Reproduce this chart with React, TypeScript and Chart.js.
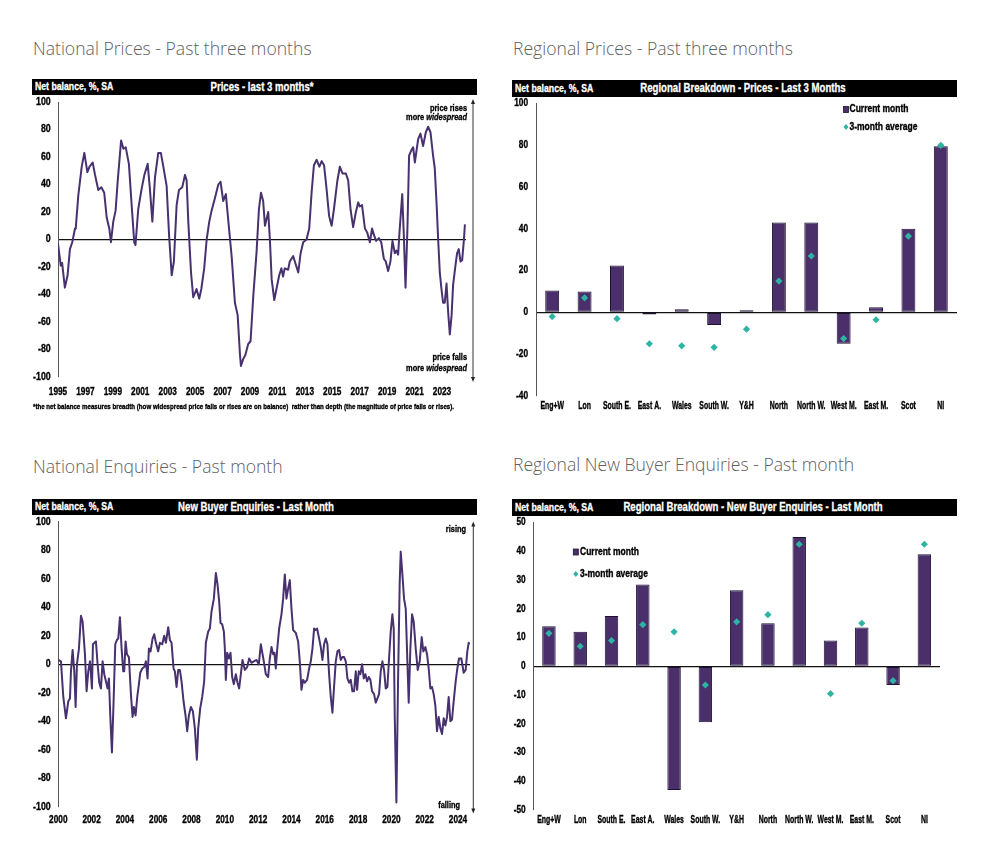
import React, { useEffect, useRef } from 'react';
import { Chart, registerables } from 'chart.js';

Chart.register(...registerables);

// ---------------- DATA ----------------
const priceYears = [
  1995.0, 1995.2, 1995.3, 1995.5, 1995.7, 1995.87, 1996.04, 1996.24, 1996.3, 1996.48, 1996.73, 1996.92,
  1997.14, 1997.3, 1997.53, 1997.7, 1997.94, 1998.16, 1998.37, 1998.55, 1998.74, 1998.86, 1999.03, 1999.2,
  1999.35, 1999.6, 1999.77, 1999.94, 2000.17, 2000.37, 2000.56, 2000.65, 2000.85, 2001.1, 2001.3, 2001.54,
  2001.7, 2001.88, 2002.07, 2002.31, 2002.5, 2002.68, 2002.92, 2003.1, 2003.29, 2003.45, 2003.65, 2003.82,
  2004.06, 2004.26, 2004.38, 2004.5, 2004.7, 2004.86, 2005.1, 2005.3, 2005.45, 2005.66, 2005.84, 2006.03,
  2006.2, 2006.44, 2006.69, 2006.85, 2007.05, 2007.24, 2007.47, 2007.66, 2007.9, 2008.1, 2008.27, 2008.34,
  2008.5, 2008.66, 2008.87, 2009.04, 2009.24, 2009.48, 2009.65, 2009.8, 2009.96, 2010.09, 2010.33, 2010.45,
  2010.58, 2010.77, 2010.93, 2011.13, 2011.29, 2011.41, 2011.53, 2011.78, 2011.9, 2012.15, 2012.27, 2012.52,
  2012.69, 2012.88, 2013.12, 2013.32, 2013.49, 2013.66, 2013.86, 2014.06, 2014.23, 2014.4, 2014.58, 2014.77,
  2014.95, 2015.12, 2015.36, 2015.55, 2015.75, 2015.99, 2016.16, 2016.33, 2016.52, 2016.72, 2016.89, 2017.0,
  2017.17, 2017.38, 2017.55, 2017.74, 2017.9, 2018.05, 2018.2, 2018.4, 2018.57, 2018.76, 2018.9, 2019.07,
  2019.24, 2019.39, 2019.56, 2019.68, 2019.8, 2019.92, 2020.1, 2020.22, 2020.34, 2020.48, 2020.6, 2020.77,
  2020.9, 2021.02, 2021.26, 2021.43, 2021.62, 2021.82, 2021.99, 2022.16, 2022.35, 2022.47, 2022.6, 2022.72,
  2022.84, 2022.96, 2023.08, 2023.2, 2023.33, 2023.45, 2023.57, 2023.7, 2023.81, 2023.98, 2024.1, 2024.22,
  2024.35, 2024.47, 2024.6, 2024.67,
];
const priceValues = [
  -3, -19, -17, -35, -26, -7, -2, 8, 9, 32, 53, 63,
  49, 53, 56, 47, 36, 38, 34, 16, 8, -2, 13, 21,
  42, 72, 66, 67, 55, 25, -2, -4, 22, 37, 47, 55,
  37, 13, 45, 63, 63, 53, 39, 3, -26, -16, 25, 36,
  38, 47, 43, 13, -24, -42, -36, -43, -36, -21, 0, 13,
  21, 30, 40, 42, 28, 33, 8, -12, -46, -55, -84, -92,
  -87, -84, -76, -74, -41, -9, 22, 34, 28, 10, 20, 0,
  -29, -44, -36, -26, -21, -27, -21, -22, -16, -12, -16, -24,
  -10, -2, 0, 8, 34, 54, 58, 53, 57, 54, 37, 17,
  10, 22, 42, 53, 48, 48, 43, 22, 9, 20, 27, 24,
  25, 8, 5, -2, 8, 3, -1, 1, -2, -14, -16, -23,
  -16, -1, -10, -8, -11, 8, 33, 2, -35, 8, 61, 65,
  67, 56, 73, 77, 68, 78, 82, 78, 61, 52, 27, 0,
  -24, -36, -46, -46, -32, -53, -69, -55, -33, -19, -10, -7,
  -16, -15, 0, 11,
];
const priceTickYears = [1995, 1997, 1999, 2001, 2003, 2005, 2007, 2009, 2011, 2013, 2015, 2017, 2019, 2021, 2023];

const enquiryYears = [
  2000.0, 2000.16, 2000.3, 2000.46, 2000.6, 2000.7, 2000.76, 2000.86, 2000.96, 2001.04, 2001.12, 2001.24,
  2001.36, 2001.46, 2001.6, 2001.7, 2001.8, 2001.9, 2001.96, 2002.02, 2002.08, 2002.16, 2002.26, 2002.36,
  2002.46, 2002.56, 2002.66, 2002.76, 2002.86, 2002.96, 2003.04, 2003.12, 2003.22, 2003.32, 2003.42, 2003.52,
  2003.6, 2003.7, 2003.8, 2003.9, 2003.96, 2004.04, 2004.12, 2004.24, 2004.36, 2004.46, 2004.54, 2004.64,
  2004.74, 2004.84, 2004.92, 2005.04, 2005.16, 2005.26, 2005.36, 2005.44, 2005.54, 2005.66, 2005.76, 2005.86,
  2006.0, 2006.1, 2006.24, 2006.36, 2006.46, 2006.6, 2006.7, 2006.8, 2006.92, 2007.0, 2007.1, 2007.2,
  2007.3, 2007.4, 2007.52, 2007.64, 2007.74, 2007.84, 2007.96, 2008.08, 2008.2, 2008.32, 2008.4, 2008.52,
  2008.64, 2008.76, 2008.86, 2009.0, 2009.1, 2009.2, 2009.34, 2009.46, 2009.56, 2009.66, 2009.74, 2009.84,
  2009.94, 2010.0, 2010.06, 2010.14, 2010.24, 2010.34, 2010.44, 2010.54, 2010.66, 2010.76, 2010.86, 2010.96,
  2011.06, 2011.2, 2011.34, 2011.46, 2011.6, 2011.74, 2011.9, 2012.04, 2012.16, 2012.34, 2012.46, 2012.6,
  2012.7, 2012.8, 2012.9, 2012.98, 2013.06, 2013.14, 2013.26, 2013.4, 2013.5, 2013.6, 2013.7, 2013.8,
  2013.9, 2014.0, 2014.1, 2014.26, 2014.4, 2014.5, 2014.6, 2014.7, 2014.8, 2014.94, 2015.06, 2015.16,
  2015.26, 2015.36, 2015.46, 2015.54, 2015.66, 2015.76, 2015.86, 2015.96, 2016.06, 2016.16, 2016.26, 2016.36,
  2016.46, 2016.54, 2016.66, 2016.76, 2016.86, 2016.96, 2017.06, 2017.16, 2017.26, 2017.36, 2017.46, 2017.56,
  2017.66, 2017.76, 2017.86, 2017.94, 2018.04, 2018.14, 2018.24, 2018.34, 2018.44, 2018.54, 2018.64, 2018.74,
  2018.84, 2018.96, 2019.06, 2019.16, 2019.26, 2019.36, 2019.46, 2019.56, 2019.66, 2019.76, 2019.86, 2019.96,
  2020.06, 2020.14, 2020.2, 2020.3, 2020.4, 2020.5, 2020.56, 2020.66, 2020.76, 2020.86, 2020.96, 2021.04,
  2021.14, 2021.24, 2021.34, 2021.46, 2021.58, 2021.7, 2021.82, 2021.92, 2022.04, 2022.14, 2022.24, 2022.34,
  2022.44, 2022.54, 2022.64, 2022.74, 2022.84, 2022.94, 2023.04, 2023.14, 2023.24, 2023.34, 2023.44, 2023.54,
  2023.64, 2023.74, 2023.86, 2023.96, 2024.06, 2024.2, 2024.34, 2024.46, 2024.56, 2024.64, 2024.7,
];
const enquiryValues = [
  3, 2, -23, -38, -26, -24, -5, 10, -5, -30, 0, 11,
  34, 30, 7, -19, -5, 2, -7, -17, 14, 15, 16, 0,
  -13, -17, 2, -7, -12, -17, -10, -36, -62, -26, 14, 17,
  18, 33, 11, -5, -5, 16, 7, 5, -21, -37, -30, -36,
  -23, -14, -6, -3, -2, 2, -10, 11, 9, 18, 21, 15,
  9, 15, 14, 20, 15, 26, 17, 15, -3, -5, -16, -4,
  -4, -12, -26, -36, -47, -36, -30, -33, -45, -67, -45, -31,
  -23, -12, 15, 23, 25, 37, 46, 64, 56, 44, 29, 28,
  23, 11, -11, 8, 4, 8, -9, -14, -7, -13, -17, -7,
  3, -4, -2, 4, 1, 2, 3, 0, 14, 2, -7, -9,
  4, 12, 7, 8, -3, 10, 25, 35, 46, 63, 46, 53,
  59, 39, 24, 22, 16, 2, -18, -11, -13, -11, -3, 2,
  11, 25, 24, 25, 18, 12, 3, 14, 18, 14, -7, -23,
  -34, -19, 2, 9, 10, 3, 5, 5, 2, -10, -13, -11,
  -19, -19, -5, -18, -5, -7, 0, -10, -7, -12, -9, -11,
  -19, -21, -27, -24, -21, -5, 2, -4, -17, -16, 4, 23,
  35, 25, -36, -97, -12, 58, 79, 63, 46, 39, 2, -27,
  11, 35, 30, 11, -4, 2, 19, 9, 12, 7, -3, -17,
  -16, -21, -29, -47, -37, -45, -49, -38, -43, -37, -23, -40,
  -39, -26, -12, -3, 4, 4, -6, -4, 9, 15, 14,
];
const enquiryTickYears = [2000, 2002, 2004, 2006, 2008, 2010, 2012, 2014, 2016, 2018, 2020, 2022, 2024];

const regions = ['Eng+W', 'Lon', 'South E.', 'East A.', 'Wales', 'South W.', 'Y&H', 'North', 'North W.', 'West M.', 'East M.', 'Scot', 'NI'];
const regionalPricesCurrent = [10.5, 10, 22.5, -1, 1.5, -6, 1, 43, 43, -15, 2.5, 40, 79.5];
const regionalPricesAverage = [-2, 7, -3, -15, -16, -16.7, -8, 15, 27, -12.5, -3.5, 36.5, 80];
const regionalEnquiriesCurrent = [14, 12, 17.5, 28.5, -43, -19.5, 26.5, 15, 45, 9, 13.5, -6.5, 39];
const regionalEnquiriesAverage = [11.5, 7, 9, 14.5, 12, -6.5, 15.5, 18, 42.5, -9.5, 15, -5, 42.5];

const footnote = '*the net balance measures breadth (how widespread price falls or rises are on balance)  rather than depth (the magnitude of price falls or rises).';

// ---------------- STYLE ----------------
const SANS = '"Liberation Sans", Arial, sans-serif';
const LINE_COLOR = '#47316f';
const BAR_COLOR = '#4a2f6b';
const BAR_BORDER = '#1e1230';
const TEAL = '#2fb3a3';

type Box = { left: number; top: number; width: number; height: number };
type Plot = { left: number; top: number; right: number; bottom: number };
type TextStyle = { size: number; scale: number; italic?: boolean };

function drawText(ctx: CanvasRenderingContext2D, text: string, x: number, y: number, align: CanvasTextAlign, st: TextStyle) {
  ctx.save();
  ctx.font = `${st.italic ? 'italic ' : ''}bold ${st.size}px ${SANS}`;
  ctx.textBaseline = 'middle';
  ctx.textAlign = align;
  ctx.fillStyle = '#000';
  ctx.strokeStyle = '#000';
  ctx.lineWidth = 0.35;
  ctx.translate(x, y);
  ctx.scale(st.scale, 1);
  ctx.fillText(text, 0, 0);
  ctx.strokeText(text, 0, 0);
  ctx.restore();
}
function textWidth(ctx: CanvasRenderingContext2D, text: string, st: TextStyle) {
  ctx.save();
  ctx.font = `${st.italic ? 'italic ' : ''}bold ${st.size}px ${SANS}`;
  const w = ctx.measureText(text).width * st.scale;
  ctx.restore();
  return w;
}

function makePadding(box: Box, plot: Plot, yw: number, xh: number) {
  return {
    left: plot.left - box.left - yw,
    top: plot.top - box.top,
    right: box.left + box.width - plot.right,
    bottom: box.top + box.height - plot.bottom - xh,
  };
}

type AxisText = { xLabelY: number; yLabelRight: number; xStyle: TextStyle; yStyle: TextStyle };

function drawAxisLabels(chart: any, box: Box, ax: AxisText, labelFor: (v: number) => string) {
  const ctx = chart.ctx as CanvasRenderingContext2D;
  const xs = chart.scales.x;
  const ys = chart.scales.y;
  for (const t of xs.ticks) {
    const px = xs.getPixelForValue(t.value);
    drawText(ctx, labelFor(t.value), px, ax.xLabelY - box.top, 'center', ax.xStyle);
  }
  for (const t of ys.ticks) {
    const py = ys.getPixelForValue(t.value);
    drawText(ctx, String(t.value), ax.yLabelRight - box.left, py, 'right', ax.yStyle);
  }
}

type Note = { x: number; y: number; parts: { text: string; italic?: boolean }[] };

function lineConfig(o: {
  years: number[]; values: number[]; ticks: number[]; xMin: number; xMax: number;
  box: Box; plot: Plot; yw: number; xh: number; axis: AxisText;
  arrow: { x: number; top: number; bottom: number }; notes: Note[];
  foot?: { text: string; x: number; y: number; width: number };
}) {
  const overlay = {
    id: 'overlay',
    afterDraw(chart: any) {
      const ctx = chart.ctx as CanvasRenderingContext2D;
      const bx = o.box.left, by = o.box.top;
      drawAxisLabels(chart, o.box, o.axis, (v) => String(v));
      ctx.save();
      const ax = o.arrow.x - bx;
      const at = o.arrow.top - by;
      const ab = o.arrow.bottom - by;
      ctx.strokeStyle = '#333';
      ctx.fillStyle = '#222';
      ctx.lineWidth = 1;
      ctx.beginPath();
      ctx.moveTo(ax, at + 3);
      ctx.lineTo(ax, ab - 3);
      ctx.stroke();
      ctx.beginPath();
      ctx.moveTo(ax, at);
      ctx.lineTo(ax - 2, at + 5);
      ctx.lineTo(ax + 2, at + 5);
      ctx.closePath();
      ctx.fill();
      ctx.beginPath();
      ctx.moveTo(ax, ab);
      ctx.lineTo(ax - 2, ab - 5);
      ctx.lineTo(ax + 2, ab - 5);
      ctx.closePath();
      ctx.fill();
      ctx.restore();
      for (const n of o.notes) {
        let x = n.x - bx;
        const y = n.y - by;
        for (let i = n.parts.length - 1; i >= 0; i--) {
          const p = n.parts[i];
          const st = { size: 9.5, scale: 0.78, italic: p.italic };
          drawText(ctx, p.text, x, y, 'right', st);
          x -= textWidth(ctx, p.text, st);
        }
      }
      if (o.foot) {
        const base = { size: 7.5, scale: 1 };
        const w = textWidth(ctx, o.foot.text, base);
        drawText(ctx, o.foot.text, o.foot.x - bx, o.foot.y - by, 'left', { size: 7.5, scale: o.foot.width / w });
      }
    },
  };
  return {
    type: 'line',
    data: {
      datasets: [{
        data: o.years.map((x, i) => ({ x, y: o.values[i] })),
        borderColor: LINE_COLOR,
        borderWidth: 2,
        pointRadius: 0,
        tension: 0,
        borderJoinStyle: 'round',
      }],
    },
    options: {
      animation: false,
      responsive: true,
      maintainAspectRatio: false,
      layout: { padding: makePadding(o.box, o.plot, o.yw, o.xh) },
      plugins: { legend: { display: false }, tooltip: { enabled: false } },
      scales: {
        x: {
          type: 'linear',
          min: o.xMin,
          max: o.xMax,
          afterBuildTicks: (s: any) => { s.ticks = o.ticks.map((v) => ({ value: v })); },
          afterFit: (s: any) => { s.height = o.xh; },
          grid: { display: false, drawTicks: false },
          border: { display: false },
          ticks: { display: false },
        },
        y: {
          min: -100,
          max: 100,
          afterFit: (s: any) => { s.width = o.yw; },
          ticks: { stepSize: 20, display: false },
          grid: {
            drawTicks: false,
            lineWidth: 1.2,
            color: (c: any) => (c.tick && c.tick.value === 0 ? '#111' : 'rgba(0,0,0,0)'),
          },
          border: { display: true, color: '#555', width: 1 },
        },
      },
    },
    plugins: [overlay],
  };
}

function barConfig(o: {
  current: number[]; average: number[]; yMin: number; yMax: number; step: number;
  box: Box; plot: Plot; yw: number; xh: number; axis: AxisText;
  legend: { x: number; y1: number; y2: number; textX: number };
}) {
  const overlay = {
    id: 'overlay',
    afterDraw(chart: any) {
      const ctx = chart.ctx as CanvasRenderingContext2D;
      const bx = o.box.left, by = o.box.top;
      const ds = chart.data.datasets;
      drawAxisLabels(chart, o.box, o.axis, (v) => chart.data.labels[v]);
      ctx.save();
      const sx = o.legend.x - bx, sy = o.legend.y1 - by;
      ctx.fillStyle = ds[0].backgroundColor;
      ctx.fillRect(sx - 2.5, sy - 3, 5, 6);
      ctx.strokeStyle = ds[0].borderColor;
      ctx.lineWidth = 0.8;
      ctx.strokeRect(sx - 2.5, sy - 3, 5, 6);
      const dy = o.legend.y2 - by;
      ctx.fillStyle = ds[1].backgroundColor;
      ctx.beginPath();
      ctx.moveTo(sx, dy - 3);
      ctx.lineTo(sx + 2.5, dy);
      ctx.lineTo(sx, dy + 3);
      ctx.lineTo(sx - 2.5, dy);
      ctx.closePath();
      ctx.fill();
      ctx.restore();
      const st = { size: 10, scale: 0.85 };
      drawText(ctx, ds[0].label, o.legend.textX - bx, sy, 'left', st);
      drawText(ctx, ds[1].label, o.legend.textX - bx, dy, 'left', st);
    },
  };
  return {
    type: 'bar',
    data: {
      labels: regions,
      datasets: [
        {
          type: 'bar', label: 'Current month', data: o.current,
          backgroundColor: BAR_COLOR, borderColor: BAR_BORDER, borderWidth: 1, borderSkipped: false,
          barPercentage: 0.43, categoryPercentage: 1, order: 2,
        },
        {
          type: 'line', label: '3-month average', data: o.average, showLine: false,
          pointStyle: 'rectRot', pointRadius: 3.6, pointBorderWidth: 0,
          backgroundColor: TEAL, borderColor: TEAL, order: 1,
        },
      ],
    },
    options: {
      animation: false,
      responsive: true,
      maintainAspectRatio: false,
      layout: { padding: makePadding(o.box, o.plot, o.yw, o.xh) },
      plugins: { legend: { display: false }, tooltip: { enabled: false } },
      scales: {
        x: {
          afterFit: (s: any) => { s.height = o.xh; },
          grid: { display: false, drawTicks: false },
          border: { display: false },
          ticks: { display: false, autoSkip: false },
        },
        y: {
          min: o.yMin,
          max: o.yMax,
          afterFit: (s: any) => { s.width = o.yw; },
          ticks: { stepSize: o.step, display: false },
          grid: {
            drawTicks: false,
            lineWidth: 1.2,
            color: (c: any) => (c.tick && c.tick.value === 0 ? '#111' : 'rgba(0,0,0,0)'),
          },
          border: { display: true, color: '#555', width: 1 },
        },
      },
    },
    plugins: [overlay],
  };
}

function ChartBox({ box, make }: { box: Box; make: () => any }) {
  const ref = useRef<HTMLCanvasElement | null>(null);
  useEffect(() => {
    const chart = new Chart(ref.current as HTMLCanvasElement, make());
    return () => chart.destroy();
  }, []);
  return (
    <div style={{ position: 'absolute', left: box.left, top: box.top, width: box.width, height: box.height }}>
      <canvas ref={ref} />
    </div>
  );
}

function SectionTitle({ x, y, text }: { x: number; y: number; text: string }) {
  return (
    <div style={{
      position: 'absolute', left: x, top: y - 12, height: 24, lineHeight: '24px', whiteSpace: 'nowrap',
      fontFamily: '"Open Sans", sans-serif', fontWeight: 300, fontSize: 17.6, color: '#606060',
    }}>{text}</div>
  );
}

function HeaderBar({ left, top, width, height, titleCenter, title }: { left: number; top: number; width: number; height: number; titleCenter: number; title: string }) {
  const stroke = { WebkitTextStroke: '0.3px #fff' } as any;
  return (
    <div style={{ position: 'absolute', left, top, width, height, background: '#000', color: '#fff', fontFamily: SANS, fontWeight: 700 }}>
      <div style={{ position: 'absolute', left: 3, top: 0, lineHeight: `${height}px`, fontSize: 10, whiteSpace: 'nowrap', transform: 'scaleX(0.87)', transformOrigin: 'left center', ...stroke }}>Net balance, %, SA</div>
      <div style={{ position: 'absolute', left: titleCenter - left - 200, width: 400, textAlign: 'center', top: 0, lineHeight: `${height}px`, fontSize: 12, whiteSpace: 'nowrap', transform: 'scaleX(0.8)', transformOrigin: 'center center', ...stroke }}>{title}</div>
    </div>
  );
}

const boxTL: Box = { left: 30, top: 90, width: 452, height: 325 };
const plotTL: Plot = { left: 58, top: 102, right: 466, bottom: 377 };
const boxBL: Box = { left: 30, top: 510, width: 452, height: 325 };
const plotBL: Plot = { left: 58.3, top: 521.7, right: 470, bottom: 806.7 };
const boxTR: Box = { left: 505, top: 92, width: 460, height: 328 };
const plotTR: Plot = { left: 536, top: 103.5, right: 957, bottom: 396 };
const boxBR: Box = { left: 505, top: 511, width: 460, height: 324 };
const plotBR: Plot = { left: 533.3, top: 522.7, right: 940, bottom: 810 };

const lineX: TextStyle = { size: 11, scale: 0.75 };
const lineY: TextStyle = { size: 10.5, scale: 0.84 };
const barX: TextStyle = { size: 10, scale: 0.69 };
const barY: TextStyle = { size: 10, scale: 0.83 };

export default function App() {
  return (
    <div style={{ position: 'absolute', left: 0, top: 0, width: 986, height: 862, background: '#fff', overflow: 'hidden' }}>
      <ChartBox box={boxTL} make={() => lineConfig({
        years: priceYears, values: priceValues, ticks: priceTickYears, xMin: 1995, xMax: 2024.75,
        box: boxTL, plot: plotTL, yw: 28, xh: 38,
        axis: { xLabelY: 391.5, yLabelRight: 50.7, xStyle: lineX, yStyle: lineY },
        arrow: { x: 473, top: 99, bottom: 382 },
        notes: [
          { x: 467, y: 108, parts: [{ text: 'price rises' }] },
          { x: 467, y: 117.5, parts: [{ text: 'more ' }, { text: 'widespread', italic: true }] },
          { x: 467, y: 357, parts: [{ text: 'price falls' }] },
          { x: 467, y: 368, parts: [{ text: 'more ' }, { text: 'widespread', italic: true }] },
        ],
        foot: { text: footnote, x: 33, y: 407.3, width: 421 },
      })} />
      <ChartBox box={boxBL} make={() => lineConfig({
        years: enquiryYears, values: enquiryValues, ticks: enquiryTickYears, xMin: 2000, xMax: 2024.72,
        box: boxBL, plot: plotBL, yw: 28.3, xh: 28.3,
        axis: { xLabelY: 820, yLabelRight: 50.7, xStyle: lineX, yStyle: lineY },
        arrow: { x: 473.3, top: 521.5, bottom: 813.5 },
        notes: [
          { x: 466, y: 529, parts: [{ text: 'rising' }] },
          { x: 460, y: 805, parts: [{ text: 'falling' }] },
        ],
      })} />
      <ChartBox box={boxTR} make={() => barConfig({
        current: regionalPricesCurrent, average: regionalPricesAverage, yMin: -40, yMax: 100, step: 20,
        box: boxTR, plot: plotTR, yw: 31, xh: 24,
        axis: { xLabelY: 406.7, yLabelRight: 528, xStyle: barX, yStyle: barY },
        legend: { x: 846, y1: 109.5, y2: 127, textX: 849.5 },
      })} />
      <ChartBox box={boxBR} make={() => barConfig({
        current: regionalEnquiriesCurrent, average: regionalEnquiriesAverage, yMin: -50, yMax: 50, step: 10,
        box: boxBR, plot: plotBR, yw: 28.3, xh: 25,
        axis: { xLabelY: 820, yLabelRight: 525.7, xStyle: barX, yStyle: barY },
        legend: { x: 575.8, y1: 552, y2: 574, textX: 580 },
      })} />

      <SectionTitle x={33} y={48} text="National Prices - Past three months" />
      <SectionTitle x={513} y={48} text="Regional Prices - Past three months" />
      <SectionTitle x={33} y={466} text="National Enquiries - Past month" />
      <SectionTitle x={513} y={464} text="Regional New Buyer Enquiries - Past month" />

      <HeaderBar left={32} top={79} width={445} height={16} titleCenter={262} title="Prices - last 3 months*" />
      <HeaderBar left={512} top={80} width={445} height={17} titleCenter={743} title="Regional Breakdown - Prices - Last 3 Months" />
      <HeaderBar left={32} top={499} width={445} height={16} titleCenter={256} title="New Buyer Enquiries - Last Month" />
      <HeaderBar left={512} top={499} width={445} height={17} titleCenter={753} title="Regional Breakdown - New Buyer Enquiries - Last Month" />
    </div>
  );
}
